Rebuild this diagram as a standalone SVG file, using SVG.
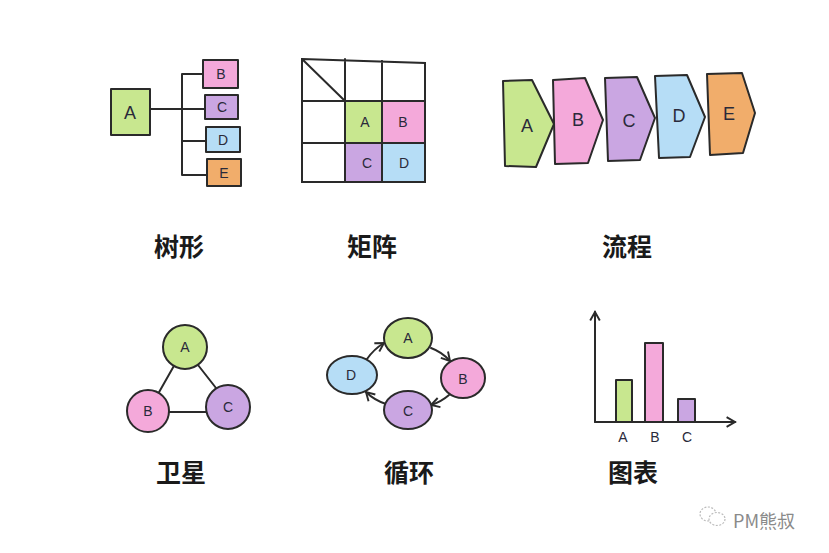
<svg xmlns="http://www.w3.org/2000/svg" width="829" height="553" viewBox="0 0 829 553">
<defs>
<style>
.s{stroke:#2a2a2a;stroke-width:2;stroke-linejoin:round;stroke-linecap:round}
.ln{fill:none;stroke:#2a2a2a;stroke-width:2;stroke-linecap:round}
.g{fill:#c8e78f}.p{fill:#f4a9da}.v{fill:#caa6e2}.b{fill:#b6ddf6}.o{fill:#f1ad6b}.w{fill:#fff}
.t{font-family:"Liberation Sans","DejaVu Sans",sans-serif;font-size:18px;fill:#2a2a3a;text-anchor:middle;dominant-baseline:central}
.ts{font-size:14px}
.cap{font-family:"Noto Sans CJK SC","Noto Sans",sans-serif;font-size:25px;font-weight:bold;fill:#1a1a1a;text-anchor:middle;dominant-baseline:central}
</style>
<marker id="ah" viewBox="0 0 10 10" refX="8" refY="5" markerWidth="6" markerHeight="6" orient="auto-start-reverse">
<path d="M1,1 L8,5 L1,9" fill="none" stroke="#2a2a2a" stroke-width="1.6"/>
</marker>
</defs>
<rect width="829" height="553" fill="#fff"/>

<g id="connectors">
<path class="ln" d="M150,109 H205 M182,74 V175 M182,74 H203 M182,141 H206 M182,175 H207"/>
<path class="ln" d="M175,364 L158,394 M198,365 L216,388 M169,412 H206"/>
<path class="ln" d="M367,359 Q374,349 384,343" marker-end="url(#ah)"/>
<path class="ln" d="M431,348 Q442,352 450,361" marker-end="url(#ah)"/>
<path class="ln" d="M449,395 Q441,402 431,405" marker-end="url(#ah)"/>
<path class="ln" d="M386,404 Q374,400 366,392" marker-end="url(#ah)"/>
<path class="ln" d="M595,422 V312" marker-end="url(#ah)"/>
<path class="ln" d="M595,422 H735" marker-end="url(#ah)"/>
</g>

<g id="tree">
<g id="tree-A"><rect class="s g" x="111" y="89" width="39" height="46"/><text class="t" x="130" y="113">A</text></g>
<g id="tree-B"><rect class="s p" x="203" y="60" width="35" height="28"/><text class="t ts" x="221" y="74">B</text></g>
<g id="tree-C"><rect class="s v" x="205" y="95" width="33" height="24"/><text class="t ts" x="222" y="107">C</text></g>
<g id="tree-D"><rect class="s b" x="206" y="127" width="34" height="25"/><text class="t ts" x="223" y="140">D</text></g>
<g id="tree-E"><rect class="s o" x="207" y="159" width="34" height="27"/><text class="t ts" x="224" y="173">E</text></g>
</g>

<g id="matrix">
<rect class="s g" x="345" y="101" width="37" height="42"/>
<rect class="s p" x="382" y="101" width="43" height="42"/>
<rect class="s v" x="345" y="143" width="37" height="39"/>
<rect class="s b" x="382" y="143" width="43" height="39"/>
<path class="ln" d="M302,59 L425,63 L425,182 L302,182 Z M345,59 V182 M382,61 V182 M302,101 H425 M302,143 H425 M302,59 L345,101"/>
<text class="t ts" x="365" y="122">A</text>
<text class="t ts" x="403" y="122">B</text>
<text class="t ts" x="367" y="163">C</text>
<text class="t ts" x="404" y="163">D</text>
</g>

<g id="flow">
<g id="flow-A"><path class="s g" d="M503,81 L532,80 L554,124 L536,167 L505,166 Z"/><text class="t" x="527" y="126">A</text></g>
<g id="flow-B"><path class="s p" d="M553,80 L585,78 L603,120 L588,163 L555,164 Z"/><text class="t" x="578" y="120">B</text></g>
<g id="flow-C"><path class="s v" d="M605,78 L637,77 L655,118 L640,160 L608,161 Z"/><text class="t" x="629" y="121">C</text></g>
<g id="flow-D"><path class="s b" d="M655,76 L687,75 L705,117 L690,157 L659,158 Z"/><text class="t" x="679" y="116">D</text></g>
<g id="flow-E"><path class="s o" d="M707,74 L742,73 L755,113 L743,153 L710,155 Z"/><text class="t" x="729" y="114">E</text></g>
</g>

<g id="sat">
<g id="sat-A"><circle class="s g" cx="185" cy="347" r="22"/><text class="t ts" x="185" y="347">A</text></g>
<g id="sat-B"><circle class="s p" cx="148" cy="411" r="21"/><text class="t ts" x="148" y="411">B</text></g>
<g id="sat-C"><circle class="s v" cx="228" cy="407" r="22"/><text class="t ts" x="228" y="407">C</text></g>
</g>

<g id="cycle">
<g id="cyc-A"><ellipse class="s g" cx="408" cy="338" rx="24" ry="20"/><text class="t ts" x="408" y="338">A</text></g>
<g id="cyc-B"><ellipse class="s p" cx="463" cy="378" rx="22" ry="20"/><text class="t ts" x="463" y="379">B</text></g>
<g id="cyc-C"><ellipse class="s v" cx="408" cy="410" rx="24" ry="19"/><text class="t ts" x="408" y="411">C</text></g>
<g id="cyc-D"><ellipse class="s b" cx="352" cy="375" rx="25" ry="19"/><text class="t ts" x="351" y="375">D</text></g>
</g>

<g id="chart">
<rect class="s g" x="616" y="380" width="16" height="42"/>
<rect class="s p" x="645" y="343" width="18" height="79"/>
<rect class="s v" x="678" y="399" width="17" height="23"/>
<text class="t ts" x="623" y="437">A</text>
<text class="t ts" x="655" y="437">B</text>
<text class="t ts" x="687" y="437">C</text>
</g>

<g id="captions">
<text class="cap" x="179" y="245">树形</text>
<text class="cap" x="372" y="245">矩阵</text>
<text class="cap" x="627" y="245">流程</text>
<text class="cap" x="181" y="471">卫星</text>
<text class="cap" x="409" y="471">循环</text>
<text class="cap" x="633" y="471">图表</text>
</g>

<g id="watermark">
<ellipse cx="708" cy="514" rx="8" ry="7" fill="none" stroke="#bbb" stroke-width="1.2" stroke-dasharray="2,1.5"/>
<ellipse cx="717" cy="519" rx="8" ry="6.5" fill="#fff" stroke="#bbb" stroke-width="1.2" stroke-dasharray="2,1.5"/>
<text x="733" y="520" font-family="'Noto Sans CJK SC','Noto Sans',sans-serif" font-size="18" fill="#8a8a8a" dominant-baseline="central">PM熊叔</text>
</g>
</svg>
